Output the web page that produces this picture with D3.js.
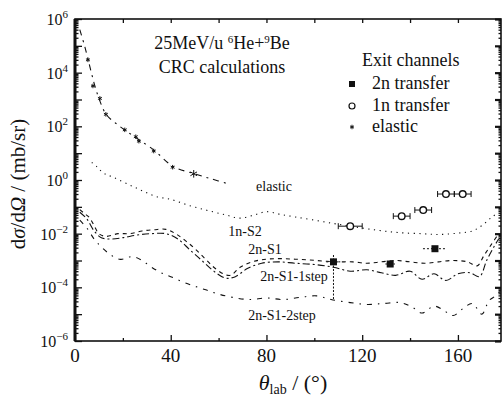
<!DOCTYPE html>
<html>
<head>
<meta charset="utf-8">
<script src="https://cdn.jsdelivr.net/npm/d3@7"></script>
<style>
  html, body { margin: 0; padding: 0; background: #fff; }
  svg { display: block; font-family: "Liberation Serif", "DejaVu Serif", serif; }
</style>
</head>
<body>
<svg id="chart" width="504" height="397"></svg>
<script>
// values (theta in degrees, cross sections in mb/sr)
const elasticCalcTheta = [2, 4, 6, 8, 10, 13, 17, 21, 26, 33, 41, 50, 57, 64];
const elasticCalc = [4.0e5, 1.0e5, 2.0e4, 4.0e3, 1.1e3, 2.8e2, 1.3e2, 71, 35, 13, 3.2, 1.7, 1.1, 0.72];

const n1S2Theta = [7, 9, 12, 16, 22, 28, 34, 40, 48, 56, 63, 69, 75, 80, 86, 92, 100, 108, 115, 125, 135, 145, 152, 160, 166, 170, 174, 177];
const n1S2 = [4.5, 3.2, 1.8, 1.26, 0.71, 0.40, 0.24, 0.19, 0.11, 7.1e-2, 5.0e-2, 3.8e-2, 5.0e-2, 6.6e-2, 5.2e-2, 4.2e-2, 3.2e-2, 2.4e-2, 1.9e-2, 1.4e-2, 1.1e-2, 1.0e-2, 9.3e-3, 1.05e-2, 1.26e-2, 2.0e-2, 4.0e-2, 6.3e-2];

const n2S1Theta = [2, 4, 6, 8, 10, 13, 18, 23, 28, 33, 38, 42, 46, 50, 54, 58, 62, 65, 69, 74, 80, 86, 92, 98, 104, 110, 116, 122, 128, 134, 140, 146, 152, 158, 164, 168, 171, 174, 177];
const n2S1 = [7.9e-2, 5.6e-2, 4.0e-2, 2.0e-2, 1.0e-2, 7.9e-3, 1.0e-2, 1.0e-2, 1.26e-2, 1.4e-2, 1.45e-2, 1.0e-2, 5.6e-3, 2.8e-3, 1.26e-3, 5.6e-4, 3.2e-4, 2.8e-4, 5.6e-4, 8.9e-4, 1.12e-3, 1.17e-3, 1.12e-3, 1.05e-3, 9.5e-4, 8.9e-4, 8.9e-4, 7.9e-4, 8.9e-4, 1.0e-3, 8.9e-4, 7.9e-4, 8.9e-4, 1.0e-3, 8.9e-4, 6.3e-4, 1.6e-3, 4.0e-3, 1.0e-2];

const n2S1Step1Theta = [2, 5, 8, 11, 15, 20, 26, 32, 38, 43, 48, 53, 58, 63, 67, 72, 78, 85, 92, 100, 108, 115, 122, 128, 134, 140, 145, 150, 155, 160, 165, 169, 172, 175, 177];
const n2S1Step1 = [6.3e-2, 3.5e-2, 1.26e-2, 7.1e-3, 6.3e-3, 7.1e-3, 8.9e-3, 1.0e-2, 1.0e-2, 6.3e-3, 2.5e-3, 1.0e-3, 4.0e-4, 2.2e-4, 2.5e-4, 5.0e-4, 7.9e-4, 8.9e-4, 7.9e-4, 7.1e-4, 5.6e-4, 4.0e-4, 4.5e-4, 3.5e-4, 2.8e-4, 4.0e-4, 2.0e-4, 3.2e-4, 1.8e-4, 3.2e-4, 3.5e-4, 2.5e-4, 1.0e-3, 3.2e-3, 6.3e-3];

const n2S1Step2Theta = [2, 5, 8, 11, 15, 19, 24, 28, 32, 36, 40, 45, 50, 55, 60, 66, 73, 80, 87, 94, 101, 107, 115, 122, 129, 136, 141, 145, 150, 154, 158, 162, 166, 170, 173, 176, 178];
const n2S1Step2 = [3.2e-2, 1.6e-2, 6.3e-3, 3.2e-3, 1.6e-3, 1.1e-3, 1.4e-3, 1.0e-3, 5.6e-4, 3.5e-4, 2.5e-4, 1.6e-4, 1.1e-4, 7.9e-5, 5.6e-5, 4.2e-5, 3.5e-5, 4.0e-5, 3.5e-5, 4.2e-5, 4.8e-5, 3.5e-5, 2.7e-5, 2.3e-5, 2.5e-5, 2.7e-5, 1.8e-5, 1.1e-5, 2.0e-5, 1.4e-5, 8.9e-6, 1.6e-5, 2.5e-5, 1.0e-5, 3.2e-5, 5.0e-5, 7.9e-5];

// measured points
const elasticDataTheta = [5.4, 7.5, 10.4, 12.9, 20.8, 25.4, 26.7, 32.9, 40.8, 49.6];
const elasticData = [3.0e4, 3.2e3, 1.1e3, 2.8e2, 74, 41, 28, 12, 3.0, 1.7];

const oneNTheta = [115, 136.5, 145.5, 155, 162];
const oneN = [1.9e-2, 4.5e-2, 7.6e-2, 0.30, 0.30];
const oneNThetaErr = [5, 3.5, 3.5, 3.5, 3.5];

const twoNTheta = [108, 131.7, 150.4];
const twoN = [8.9e-4, 7.4e-4, 2.75e-3];
const twoNLow = [3.5e-5, 7.4e-4, 2.75e-3];
const twoNHigh = [1.6e-3, 7.4e-4, 2.75e-3];
const twoNThetaErr = [3, 2, 5];

const xTicks = [0, 40, 80, 120, 160];
const xMinorTicks = [20, 60, 100, 140];
const yLabelExps = [6, 4, 2, 0, -2, -4, -6];

const svg = d3.select('#chart');
const ink = '#111';

const plotL = 75, plotR = 501, plotT = 19, plotB = 341;
const x = d3.scaleLinear().domain([0, 178]).range([plotL, plotR]);
const y = d3.scaleLog().domain([1e-6, 1e6]).range([plotB, plotT]);

const zip = (a, b) => a.map((t, i) => [t, b[i]]);

// curves
const line = d3.line()
  .x(d => x(d[0]))
  .y(d => y(d[1]))
  .curve(d3.curveCatmullRom.alpha(0.5));

const curves = [
  { t: elasticCalcTheta, v: elasticCalc, dash: '6,5,2,5' },
  { t: n1S2Theta, v: n1S2, dash: '1.2,4.5' },
  { t: n2S1Theta, v: n2S1, dash: '4,4' },
  { t: n2S1Step1Theta, v: n2S1Step1, dash: '7,3,2,3' },
  { t: n2S1Step2Theta, v: n2S1Step2, dash: '5,6,1.5,6' }
];

svg.append('g')
  .selectAll('path')
  .data(curves)
  .enter()
  .append('path')
  .attr('d', d => line(zip(d.t, d.v)))
  .attr('fill', 'none')
  .attr('stroke', ink)
  .attr('stroke-width', 1.1)
  .attr('stroke-dasharray', d => d.dash);

// curve labels
const curveLabels = [
  { text: 'elastic', x: 274, y: 191 },
  { text: '1n-S2', x: 245, y: 236 },
  { text: '2n-S1', x: 265, y: 254 },
  { text: '2n-S1-1step', x: 294, y: 281 },
  { text: '2n-S1-2step', x: 282, y: 320 }
];
svg.append('g')
  .selectAll('text')
  .data(curveLabels)
  .enter()
  .append('text')
  .attr('x', d => d.x)
  .attr('y', d => d.y)
  .attr('text-anchor', 'middle')
  .attr('font-size', 14)
  .attr('fill', ink)
  .text(d => d.text);

// error bars
const bars = svg.append('g').attr('stroke', ink).attr('stroke-width', 1);
oneNTheta.forEach((t, i) => {
  const yy = y(oneN[i]);
  const x0 = x(t - oneNThetaErr[i]), x1 = x(t + oneNThetaErr[i]);
  bars.append('line').attr('x1', x0).attr('x2', x1).attr('y1', yy).attr('y2', yy);
  bars.append('line').attr('x1', x0).attr('x2', x0).attr('y1', yy - 3).attr('y2', yy + 3);
  bars.append('line').attr('x1', x1).attr('x2', x1).attr('y1', yy - 3).attr('y2', yy + 3);
});
twoNTheta.forEach((t, i) => {
  const yy = y(twoN[i]);
  const x0 = x(t - twoNThetaErr[i]), x1 = x(t + twoNThetaErr[i]);
  bars.append('line').attr('x1', x0).attr('x2', x1).attr('y1', yy).attr('y2', yy)
    .attr('stroke-dasharray', '2,2');
  bars.append('line').attr('x1', x(t)).attr('x2', x(t))
    .attr('y1', y(twoNHigh[i])).attr('y2', y(twoNLow[i]))
    .attr('stroke-dasharray', '2,1.5');
});

// markers
const starType = d3.symbolAsterisk || d3.symbolStar;
svg.append('g')
  .selectAll('path')
  .data(zip(elasticDataTheta, elasticData))
  .enter()
  .append('path')
  .attr('transform', d => `translate(${x(d[0])},${y(d[1])})`)
  .attr('d', (d, i) => d3.symbol(starType, i === elasticData.length - 1 ? 40 : 14)())
  .attr('fill', ink)
  .attr('stroke', ink)
  .attr('stroke-width', 1);

svg.append('g')
  .selectAll('circle')
  .data(zip(oneNTheta, oneN))
  .enter()
  .append('circle')
  .attr('cx', d => x(d[0]))
  .attr('cy', d => y(d[1]))
  .attr('r', 3.3)
  .attr('fill', '#fff')
  .attr('stroke', ink)
  .attr('stroke-width', 1.4);

svg.append('g')
  .selectAll('rect')
  .data(zip(twoNTheta, twoN))
  .enter()
  .append('rect')
  .attr('x', d => x(d[0]) - 3.5)
  .attr('y', d => y(d[1]) - 3.5)
  .attr('width', 7)
  .attr('height', 7)
  .attr('fill', ink);

// axes, ticks inward
const decades = d3.range(-6, 7).map(e => Math.pow(10, e));
const minors = [];
decades.slice(0, -1).forEach(d => { for (let k = 2; k < 10; k++) minors.push(d * k); });

const axisStyle = g => {
  g.select('.domain').remove();
  g.selectAll('line').attr('stroke', ink).attr('stroke-width', 1.3);
  g.selectAll('text').remove();
};

svg.append('g').attr('transform', `translate(${plotL},0)`)
  .call(d3.axisLeft(y).tickValues(decades).tickSize(-7)).call(axisStyle);
svg.append('g').attr('transform', `translate(${plotL},0)`)
  .call(d3.axisLeft(y).tickValues(minors).tickSize(-3.5)).call(axisStyle);
svg.append('g').attr('transform', `translate(${plotR},0)`)
  .call(d3.axisRight(y).tickValues(decades).tickSize(-6)).call(axisStyle)
  .selectAll('line').attr('stroke-width', 2.2);
svg.append('g').attr('transform', `translate(${plotR},0)`)
  .call(d3.axisRight(y).tickValues(minors).tickSize(-2.5)).call(axisStyle);

svg.append('g').attr('transform', `translate(0,${plotB})`)
  .call(d3.axisBottom(x).tickValues(xTicks).tickSize(-6)).call(axisStyle);
svg.append('g').attr('transform', `translate(0,${plotB})`)
  .call(d3.axisBottom(x).tickValues(xMinorTicks).tickSize(-3)).call(axisStyle);
svg.append('g').attr('transform', `translate(0,${plotT})`)
  .call(d3.axisTop(x).tickValues(xTicks.concat(xMinorTicks)).tickSize(-4)).call(axisStyle);

// frame
svg.append('rect')
  .attr('x', plotL).attr('y', plotT)
  .attr('width', plotR - plotL).attr('height', plotB - plotT)
  .attr('fill', 'none')
  .attr('stroke', ink)
  .attr('stroke-width', 1.6);
svg.append('line')
  .attr('x1', plotL).attr('x2', plotL).attr('y1', plotT).attr('y2', plotB)
  .attr('stroke', ink).attr('stroke-width', 3);

// tick labels
svg.append('g')
  .selectAll('text')
  .data(xTicks)
  .enter()
  .append('text')
  .attr('x', d => x(d))
  .attr('y', plotB + 21)
  .attr('text-anchor', 'middle')
  .attr('font-size', 19)
  .attr('fill', ink)
  .text(d => d);

const yl = svg.append('g')
  .selectAll('text')
  .data(yLabelExps)
  .enter()
  .append('text')
  .attr('x', 68)
  .attr('y', d => y(Math.pow(10, d)) + 6)
  .attr('text-anchor', 'end')
  .attr('font-size', 16)
  .attr('fill', ink)
  .text('10');
yl.append('tspan')
  .attr('dy', -7)
  .attr('font-size', 11)
  .text(d => d < 0 ? '\u2212' + Math.abs(d) : d);

// axis titles
const yt = svg.append('text')
  .attr('transform', 'translate(25,184) rotate(-90)')
  .attr('text-anchor', 'middle')
  .attr('font-size', 21)
  .attr('fill', ink);
yt.append('tspan').text('d');
yt.append('tspan').attr('font-style', 'italic').text('\u03c3');
yt.append('tspan').text('/d');
yt.append('tspan').attr('font-style', 'italic').text('\u03a9');
yt.append('tspan').text(' / (mb/sr)');

const xt = svg.append('text')
  .attr('x', 293)
  .attr('y', 390)
  .attr('text-anchor', 'middle')
  .attr('font-size', 22)
  .attr('fill', ink);
xt.append('tspan').attr('font-style', 'italic').text('\u03b8');
xt.append('tspan').attr('font-size', 14).attr('dy', 4).text('lab');
xt.append('tspan').attr('dy', -4).text(' / (\u00b0)');

// title
const t1 = svg.append('text')
  .attr('x', 222).attr('y', 49)
  .attr('text-anchor', 'middle')
  .attr('font-size', 18)
  .attr('fill', ink);
t1.append('tspan').text('25MeV/u ');
t1.append('tspan').attr('font-size', 11).attr('dy', -6).text('6');
t1.append('tspan').attr('dy', 6).text('He+');
t1.append('tspan').attr('font-size', 11).attr('dy', -6).text('9');
t1.append('tspan').attr('dy', 6).text('Be');
svg.append('text')
  .attr('x', 222).attr('y', 73)
  .attr('text-anchor', 'middle')
  .attr('font-size', 18)
  .attr('fill', ink)
  .text('CRC calculations');

// legend
const legend = svg.append('g').attr('font-size', 18).attr('fill', ink);
legend.append('text').attr('x', 362).attr('y', 66).text('Exit channels');
const legendRows = [
  { label: '2n transfer', y: 84 },
  { label: '1n transfer', y: 106 },
  { label: 'elastic', y: 127 }
];
legendRows.forEach(r => {
  legend.append('text').attr('x', 372).attr('y', r.y + 5).text(r.label);
});
legend.append('rect').attr('x', 349).attr('y', 81).attr('width', 6).attr('height', 6).attr('fill', ink);
legend.append('circle').attr('cx', 352).attr('cy', 106).attr('r', 3).attr('fill', '#fff')
  .attr('stroke', ink).attr('stroke-width', 1.2);
legend.append('path').attr('transform', 'translate(352,127)')
  .attr('d', d3.symbol(starType, 14)())
  .attr('fill', ink).attr('stroke', ink).attr('stroke-width', 1);
</script>
</body>
</html>
